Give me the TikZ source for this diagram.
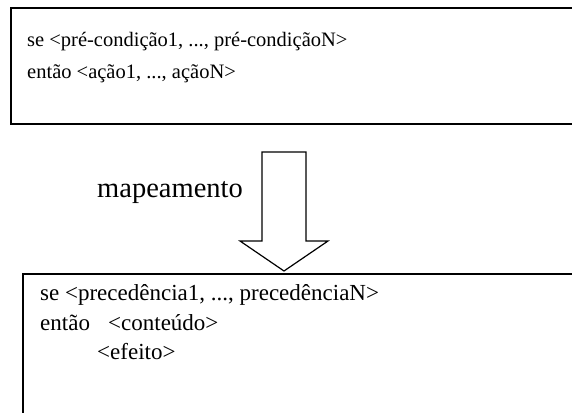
\documentclass[tikz,border=0pt]{standalone}
\usepackage{fontspec}
\setmainfont{Liberation Serif}
\begin{document}
\begin{tikzpicture}[x=1pt,y=-1pt,
  boxline/.style={draw=black,line width=1.7pt},
  arrowline/.style={draw=black,line width=1.2pt,line join=miter,fill=white},
  txt/.style={anchor=base west,inner sep=0pt},
  toptxt/.style={txt,font=\fontsize{20.5}{26}\selectfont},
  bottxt/.style={txt,font=\fontsize{23}{29}\selectfont},
  maptxt/.style={txt,font=\fontsize{28.5}{34}\selectfont}]
\useasboundingbox (0,0) rectangle (572,412);
\clip (0,0) rectangle (572,412);
% boxes
\node[boxline,rectangle,inner sep=0pt,minimum width=600pt,minimum height=116pt,anchor=north west] (top) at (10,7) {};
\node[boxline,rectangle,inner sep=0pt,minimum width=600pt,minimum height=200pt,anchor=north west] (bot) at (22,273) {};
% texts
\node[toptxt] (t1) at (27,46) {se <pré-condição1, ..., pré-condiçãoN>};
\node[toptxt] (t2) at (27,78) {então <ação1, ..., açãoN>};
\node[bottxt] (b1) at (40,300) {se <precedência1, ..., precedênciaN>};
\node[bottxt] (b2) at (40,330) {então};
\node[bottxt] (b2b) at (108,330) {<conteúdo>};
\node[bottxt] (b3) at (97,359) {<efeito>};
\node[maptxt] (map) at (97,197) {mapeamento};
% block arrow
\coordinate (tip) at (284,271);
\draw[arrowline] (262,152) -- (306,152) -- (306,241) -- (328,241) -- (tip) -- (240,241) -- (262,241) -- cycle;
\end{tikzpicture}
\end{document}
